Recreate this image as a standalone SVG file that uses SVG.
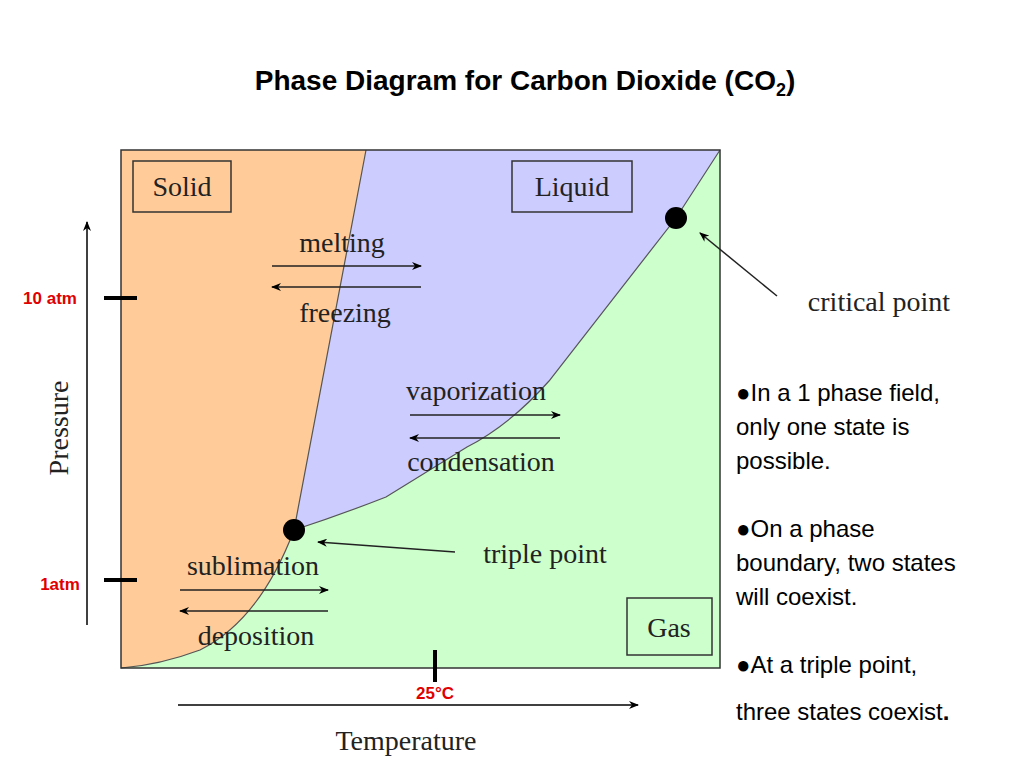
<svg xmlns="http://www.w3.org/2000/svg" width="1024" height="768" viewBox="0 0 1024 768">
<defs>
<marker id="ah" markerWidth="10" markerHeight="8" refX="9" refY="4" orient="auto" markerUnits="userSpaceOnUse"><path d="M0,0 L10,4 L0,8 L3,4 Z" fill="#000"/></marker>
<style>
.lbl{font-family:"Liberation Serif",serif;font-size:28px;fill:#222}
.ar{stroke:#222;stroke-width:1.5;fill:none}
.red{font-family:"Liberation Sans",sans-serif;font-size:17px;font-weight:bold;fill:#e00000}
.txt{font-family:"Liberation Sans",sans-serif;font-size:24px;fill:#000}
.tick{stroke:#000;stroke-width:4}
</style>
</defs>
<rect width="1024" height="768" fill="#fff"/>
<text x="525" y="90" text-anchor="middle" font-family="Liberation Sans,sans-serif" font-size="28" font-weight="bold">Phase Diagram for Carbon Dioxide (CO<tspan font-size="18" dy="6">2</tspan><tspan dy="-6">)</tspan></text>
<g id="regions">
<rect x="121" y="150" width="599" height="518" fill="#ccffcc"/>
<path d="M121,150 L366,150 L294,530 Q260,620 200,650 Q160,665 121,668 Z" fill="#ffcc99"/>
<path d="M366,150 L720,150 L676,218 L549,381 Q510,425 467,447 Q430,470 386,497 Q340,515 294,530 Z" fill="#ccccff"/>
<path d="M366,150 L294,530 Q260,620 200,650 Q160,665 121,668" fill="none" stroke="#555" stroke-width="1.2"/>
<path d="M294,530 Q340,515 386,497 Q430,470 467,447 Q510,425 549,381 L676,218 L720,150" fill="none" stroke="#555" stroke-width="1.2"/>
<rect x="121" y="150" width="599" height="518" fill="none" stroke="#333" stroke-width="1.5"/>
</g>
<g id="solid"><rect x="133" y="161" width="98" height="51" fill="none" stroke="#333" stroke-width="1.5"/><text class="lbl" x="182" y="196" text-anchor="middle">Solid</text></g>
<g id="liquid"><rect x="512" y="161" width="120" height="51" fill="none" stroke="#333" stroke-width="1.5"/><text class="lbl" x="572" y="196" text-anchor="middle">Liquid</text></g>
<g id="gas"><rect x="627" y="598" width="85" height="57" fill="none" stroke="#333" stroke-width="1.5"/><text class="lbl" x="669" y="637" text-anchor="middle">Gas</text></g>
<circle cx="294" cy="530" r="11" fill="#000"/>
<circle cx="676" cy="218" r="11" fill="#000"/>
<g id="connectors">
<line class="ar" x1="272" y1="266" x2="421" y2="266" marker-end="url(#ah)"/>
<line class="ar" x1="421" y1="287" x2="272" y2="287" marker-end="url(#ah)"/>
<line class="ar" x1="410" y1="415" x2="560" y2="415" marker-end="url(#ah)"/>
<line class="ar" x1="560" y1="438" x2="410" y2="438" marker-end="url(#ah)"/>
<line class="ar" x1="180" y1="590" x2="328" y2="590" marker-end="url(#ah)"/>
<line class="ar" x1="328" y1="611" x2="180" y2="611" marker-end="url(#ah)"/>
<line class="ar" x1="455" y1="552" x2="318" y2="542" stroke-width="1.2" marker-end="url(#ah)"/>
<line class="ar" x1="777" y1="296" x2="700" y2="233" stroke-width="1.2" marker-end="url(#ah)"/>
<line x1="87" y1="625" x2="87" y2="222" stroke="#000" stroke-width="1.5" marker-end="url(#ah)"/>
<line x1="178" y1="705" x2="638" y2="705" stroke="#000" stroke-width="1.5" marker-end="url(#ah)"/>
</g>
<text class="lbl" x="342" y="252" text-anchor="middle">melting</text>
<text class="lbl" x="345" y="322" text-anchor="middle">freezing</text>
<text class="lbl" x="476" y="400" text-anchor="middle">vaporization</text>
<text class="lbl" x="481" y="471" text-anchor="middle">condensation</text>
<text class="lbl" x="253" y="575" text-anchor="middle">sublimation</text>
<text class="lbl" x="256" y="645" text-anchor="middle">deposition</text>
<text class="lbl" x="545" y="563" text-anchor="middle">triple point</text>
<text class="lbl" x="879" y="311" text-anchor="middle">critical point</text>
<text class="lbl" x="68" y="428" text-anchor="middle" transform="rotate(-90 68 428)">Pressure</text>
<text class="lbl" x="406" y="750" text-anchor="middle">Temperature</text>
<line class="tick" x1="104" y1="298" x2="137" y2="298"/>
<line class="tick" x1="104" y1="580" x2="137" y2="580"/>
<line class="tick" x1="435" y1="650" x2="435" y2="682"/>
<text class="red" x="50" y="304" text-anchor="middle">10 atm</text>
<text class="red" x="60" y="590" text-anchor="middle">1atm</text>
<text class="red" x="435" y="699" text-anchor="middle">25°C</text>
<g id="notes">
<text class="txt" x="736" y="401">●In a 1 phase field,</text>
<text class="txt" x="736" y="435">only one state is</text>
<text class="txt" x="736" y="469">possible.</text>
<text class="txt" x="736" y="537">●On a phase</text>
<text class="txt" x="736" y="571">boundary, two states</text>
<text class="txt" x="736" y="605">will coexist.</text>
<text class="txt" x="736" y="673">●At a triple point,</text>
<text class="txt" x="736" y="720">three states coexist<tspan font-weight="bold">.</tspan></text>
</g>
</svg>
